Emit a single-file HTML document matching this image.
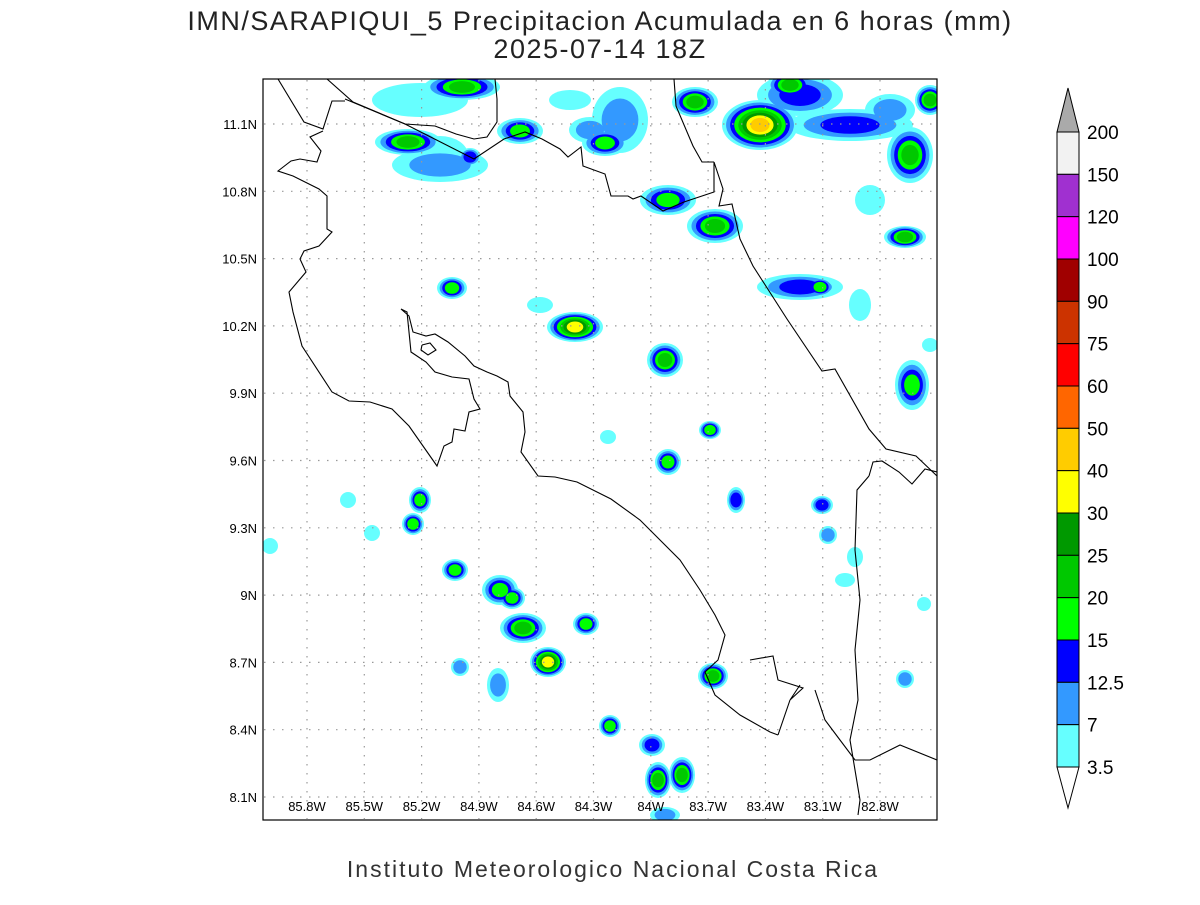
<!DOCTYPE html>
<html><head><meta charset="utf-8"><style>
body{margin:0;background:#fff;width:1200px;height:900px;overflow:hidden}
svg{font-family:"Liberation Sans",sans-serif}
</style></head><body>
<svg id="s" width="1200" height="900" xmlns="http://www.w3.org/2000/svg">
<text x="600" y="30" font-size="27" text-anchor="middle" letter-spacing="1.5" fill="#222">IMN/SARAPIQUI_5 Precipitacion Acumulada en 6 horas (mm)</text>
<text x="600" y="58" font-size="27" text-anchor="middle" letter-spacing="1.5" fill="#222">2025-07-14 18Z</text>
<text x="613" y="877" font-size="23" text-anchor="middle" letter-spacing="2" fill="#333">Instituto Meteorologico Nacional Costa Rica</text>
<clipPath id="c"><rect x="263" y="79" width="674" height="741"/></clipPath>
<g id="blobs" clip-path="url(#c)"></g>
<g id="grid" stroke="#999" stroke-width="1.2" stroke-dasharray="1.5,7.5"></g>
<g clip-path="url(#c)" fill="none" stroke="#000" stroke-width="1.1">
<polyline points="327,79 353,102 405,124 435,126 456,134 474,139 487,137 497,122 497,99 495,79"/>
<polyline points="345,99 405,124 474,159 504,139 525,132 542,139 560,149 568,157 581,147 583,166 605,174 611,196 628,196 633,199 641,196 663,211 684,202 714,192 714,162 723,189 719,206 732,204 740,239 753,266 787,319 822,371 835,369 869,429 886,449 916,456 937,476"/>
<polyline points="674,79 676,106 693,146 702,162 714,162"/>
<polyline points="278,79 304,122 323,129 332,101 345,101"/>
<polyline points="323,131 310,137 321,151 317,162 300,159 291,161 278,171 293,176 319,189 327,196 327,229 332,232 319,246 304,251 300,259 306,272 289,292 293,312 302,346 332,392 349,401 370,402 392,409 409,426 437,466 444,446 452,442 454,429 465,431 469,412 480,409 474,399 469,379 452,377 435,372 426,362 411,352 407,312 401,309 409,316 413,332 426,336 435,334 448,342 465,356 474,366 487,372 497,376 508,382 510,396 523,412 525,432 521,452 538,476 555,477 577,482 611,499 640,520 680,560 700,590 715,615 725,635 718,660 705,672 715,695 740,715 770,732 778,735"/>
<polyline points="422,345 430,343 436,350 428,355 421,350 422,345"/>
<polyline points="750,660 773,656 778,680 803,688 790,700 800,685"/>
<polyline points="778,735 790,700"/>
<polyline points="869,476 873,462 882,461 899,472 912,484 925,469 937,472"/>
<polyline points="869,476 857,490 855,550 860,600 855,650 858,700 850,740 860,800 858,815"/>
<polyline points="815,690 825,720 840,740 855,760 870,760 900,745 937,760"/>
</g>
<rect x="263" y="79" width="674" height="741" fill="none" stroke="#000" stroke-width="1.2"/>
<g id="lab" font-size="13"></g>
<g id="cb"></g>
</svg>
<script>
const NS="http://www.w3.org/2000/svg";
function el(p,t,a,txt){const e=document.createElementNS(NS,t);for(const k in a)e.setAttribute(k,a[k]);if(txt!==undefined)e.textContent=txt;document.getElementById(p).appendChild(e);return e;}
const cols=["#66ffff","#3399ff","#0000ff","#00ff00","#00c800","#009900","#ffff00","#ffcc00"];
const B=[[462,87,35,10,5],[420,100,45,14,1],[408,142,30,10,5],[440,165,45,14,2],[470,157,8,6,3],[520,131,20,10,4],[570,100,18,7,1],[620,120,25,30,2],[695,102,20,12,5],[800,95,40,18,3],[790,85,20,10,5],[850,125,60,13,3],[760,125,35,22,8],[605,143,20,10,4],[668,200,25,12,4],[715,226,25,14,5],[910,155,20,25,5],[930,100,12,12,5],[905,237,18,8,5],[800,287,40,10,3],[820,287,10,6,4],[870,200,12,12,1],[452,288,12,8,4],[575,327,25,12,7],[540,305,10,5,1],[665,360,15,14,5],[912,385,14,22,4],[668,462,10,10,4],[710,430,8,6,4],[608,437,5,4,1],[420,500,8,10,4],[413,524,8,8,4],[372,533,5,5,1],[455,570,10,8,4],[500,590,15,12,4],[512,598,10,8,4],[523,628,20,12,5],[548,662,15,12,7],[586,624,10,8,4],[713,676,12,10,5],[736,500,6,10,3],[822,505,8,6,3],[498,685,8,14,2],[610,726,8,8,4],[652,745,10,8,3],[658,780,10,15,5],[682,775,10,15,5],[905,679,6,6,2],[270,546,5,5,1],[348,500,5,5,1],[460,667,6,6,2],[828,535,6,6,2],[855,557,5,7,1],[924,604,4,4,1],[845,580,7,4,1],[590,130,18,10,2],[890,110,22,13,2],[860,305,8,13,1],[930,345,5,4,1],[665,815,12,5,2],[440,155,25,16,1]];
for(let L=0;L<8;L++)for(const b of B){if(b[4]>L){const f=1-L/(b[4]+0.6);el("blobs","ellipse",{cx:b[0],cy:b[1],rx:b[2]*f+3,ry:b[3]*f+3,fill:cols[L]});}}
const lons=["85.8W","85.5W","85.2W","84.9W","84.6W","84.3W","84W","83.7W","83.4W","83.1W","82.8W"];
lons.forEach((t,i)=>{const x=307+i*57.3;el("grid","line",{x1:x,y1:80,x2:x,y2:819});el("lab","text",{x:x,y:811,"text-anchor":"middle"},t);});
const lats=["11.1N","10.8N","10.5N","10.2N","9.9N","9.6N","9.3N","9N","8.7N","8.4N","8.1N"];
lats.forEach((t,i)=>{const y=124+i*67.3;el("grid","line",{x1:264,y1:y,x2:936,y2:y});el("lab","text",{x:257,y:y+5,"text-anchor":"end"},t);});
const cb=["#f2f2f2","#a030d0","#ff00ff","#a00000","#cc3300","#ff0000","#ff6600","#ffcc00","#ffff00","#009900","#00c800","#00ff00","#0000ff","#3399ff","#66ffff"];
const labs=["200","150","120","100","90","75","60","50","40","30","25","20","15","12.5","7","3.5"];
const h=(767-132)/15;
el("cb","polygon",{points:"1057,132 1068,88 1079,132",fill:"#aaa",stroke:"#000"});
cb.forEach((c,i)=>el("cb","rect",{x:1057,y:132+i*h,width:22,height:h,fill:c,stroke:"#000","stroke-width":1}));
el("cb","polygon",{points:"1057,767 1068,808 1079,767",fill:"#fff",stroke:"#000"});
labs.forEach((t,i)=>el("cb","text",{x:1087,y:132+i*h+7,"font-size":19},t));
</script>
</body></html>
